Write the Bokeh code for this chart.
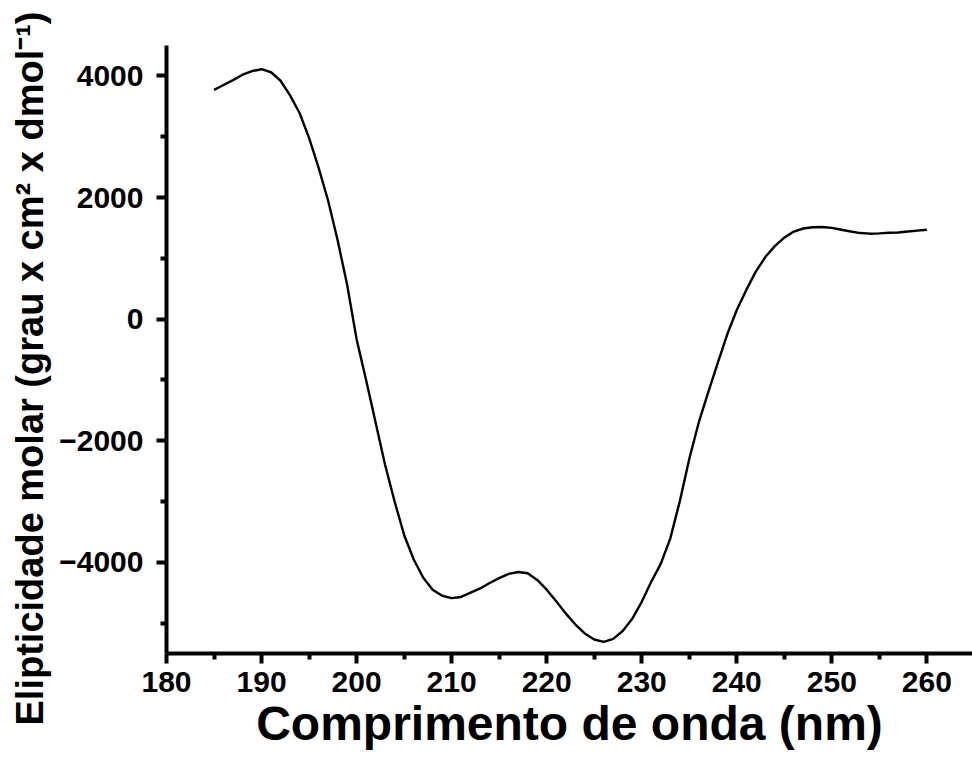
import numpy as np
from bokeh.plotting import figure
from bokeh.models import FixedTicker, Range1d, Title
from bokeh.embed import file_html
from bokeh.resources import INLINE

# Wavelength (nm) and molar ellipticity values
wavelength = list(range(185, 261))
ellipticity = [
    3770, 3850, 3930, 4020, 4080, 4110, 4060, 3920, 3680, 3390,   # 185-194
    2980, 2490, 1950, 1300, 570, -330, -1000, -1700, -2400, -3000,  # 195-204
    -3550, -3950, -4250, -4450, -4550, -4590, -4570, -4500, -4430, -4340,  # 205-214
    -4260, -4190, -4160, -4180, -4290, -4450, -4640, -4840, -5020, -5170,  # 215-224
    -5270, -5310, -5260, -5130, -4930, -4650, -4320, -4026, -3610, -3000,  # 225-234
    -2300, -1700, -1200, -720, -250, 150, 480, 780, 1020, 1200,    # 235-244
    1340, 1440, 1490, 1510, 1515, 1500, 1470, 1440, 1415, 1405,    # 245-254
    1410, 1420, 1425, 1440, 1455, 1470,                            # 255-260
]

x_major = [180, 190, 200, 210, 220, 230, 240, 250, 260]
x_minor = [185, 195, 205, 215, 225, 235, 245, 255]
y_major = [-4000, -2000, 0, 2000, 4000]
y_minor = [-5000, -3000, -1000, 1000, 3000]

x_label = "Comprimento de onda (nm)"
y_label = "Elipticidade molar (grau x cm\u00b2 x dmol\u207b\u00b9)"

FONT = "Liberation Sans"

p = figure(width=972, height=769, output_backend="svg", toolbar_location=None,
           x_range=Range1d(180, 264.8), y_range=Range1d(-5500, 4500),
           min_border_left=166, min_border_top=45, min_border_right=0,
           min_border_bottom=116)

p.line(wavelength, ellipticity, line_color="black", line_width=2.4)

p.xaxis.ticker = FixedTicker(ticks=x_major, minor_ticks=x_minor)
p.yaxis.ticker = FixedTicker(ticks=y_major, minor_ticks=y_minor)
p.xaxis.axis_label = x_label

for ax in (p.xaxis[0], p.yaxis[0]):
    ax.axis_line_width = 4
    ax.axis_line_color = "black"
    ax.major_tick_line_width = 4
    ax.minor_tick_line_width = 4
    ax.major_tick_line_color = "black"
    ax.minor_tick_line_color = "black"
    ax.major_tick_in = 0
    ax.major_tick_out = 10
    ax.minor_tick_in = 0
    ax.minor_tick_out = 6
    ax.major_label_text_font = FONT
    ax.major_label_text_font_style = "bold"
    ax.major_label_text_font_size = "30px"
    ax.major_label_text_color = "black"
    ax.axis_label_text_font = FONT
    ax.axis_label_text_font_style = "bold"
    ax.axis_label_text_color = "black"

p.xaxis.major_label_standoff = 8
p.yaxis.major_label_standoff = 13
p.xaxis.axis_label_text_font_size = "48px"
p.xaxis.axis_label_standoff = 2

# y-axis title: starts below the frame bottom, as in the reference
ytitle = Title(text=y_label, align="left", offset=-72, standoff=11,
               text_font=FONT, text_font_style="bold",
               text_font_size="38px", text_color="black")
p.add_layout(ytitle, "left")

p.grid.visible = False
p.outline_line_color = None
p.background_fill_color = "white"
p.border_fill_color = "white"

open("out.html", "w").write(file_html(p, INLINE))
